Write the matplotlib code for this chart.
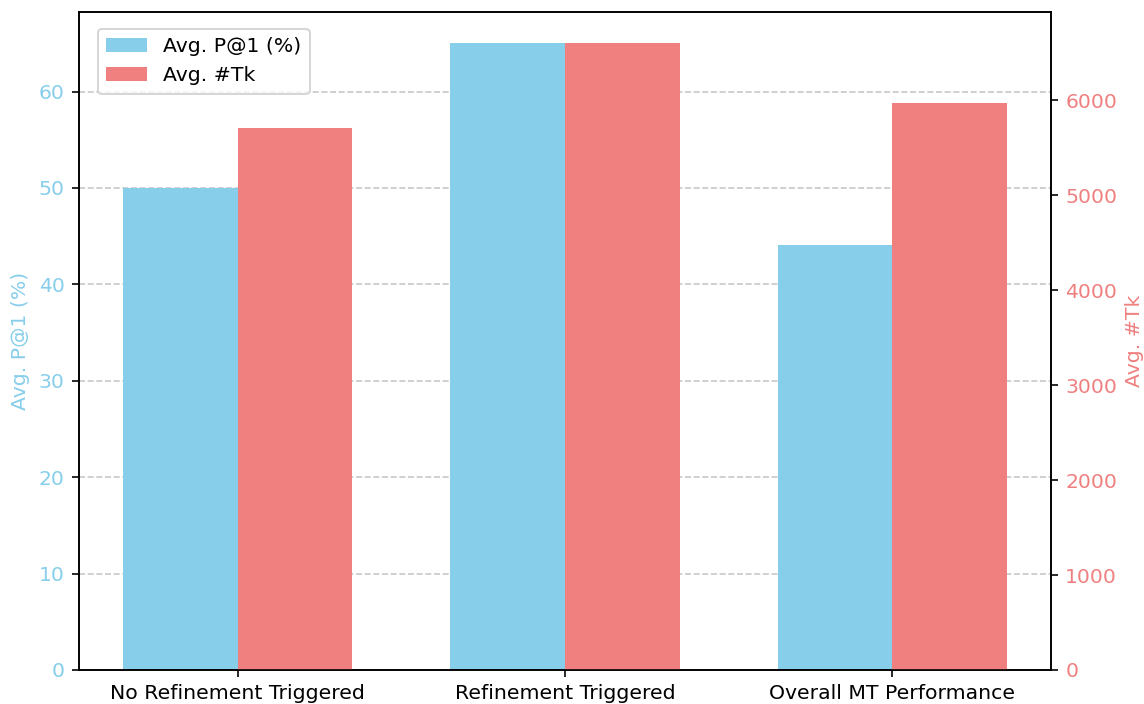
import matplotlib
matplotlib.use('Agg')
import matplotlib.pyplot as plt
import numpy as np

categories = ['No Refinement Triggered', 'Refinement Triggered', 'Overall MT Performance']
p_at_1 = [50.0, 65.0, 44.1]
tokens = [5710, 6600, 5970]

BLUE = 'skyblue'
RED = 'lightcoral'
DPI = 147

fig, ax1 = plt.subplots(figsize=(1144 / DPI, 704 / DPI), dpi=DPI)
fig.subplots_adjust(left=0.069, right=0.9187, top=0.983, bottom=0.0483)
ax2 = ax1.twinx()

x = np.arange(len(categories))
w = 0.35
b1 = ax1.bar(x - w / 2, p_at_1, w, color=BLUE, label='Avg. P@1 (%)')
b2 = ax2.bar(x + w / 2, tokens, w, color=RED, label='Avg. #Tk')

ax1.set_ylabel('Avg. P@1 (%)', color=BLUE)
ax2.set_ylabel('Avg. #Tk', color=RED)
ax1.tick_params(axis='y', labelcolor=BLUE)
ax2.tick_params(axis='y', labelcolor=RED)
ax1.set_xticks(x)
ax1.set_xticklabels(categories)

ax1.set_axisbelow(True)
ax1.grid(axis='y', linestyle='--', alpha=0.7)

ax2.legend([b1, b2], ['Avg. P@1 (%)', 'Avg. #Tk'], loc='upper left',
           bbox_to_anchor=(0.0195, 0.974), borderaxespad=0)

fig.savefig('out.png', dpi=DPI)
